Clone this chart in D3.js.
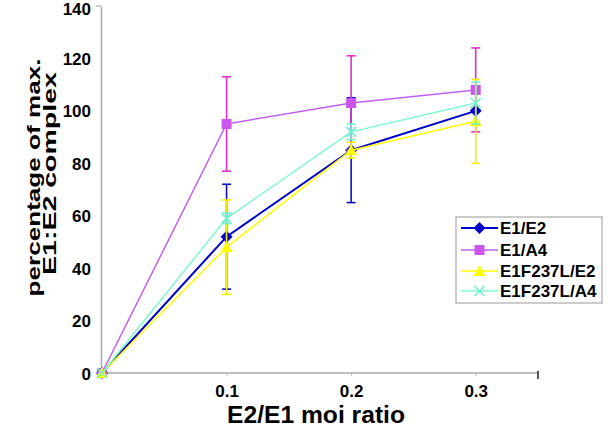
<!DOCTYPE html>
<html><head><meta charset="utf-8">
<script src="https://cdn.jsdelivr.net/npm/d3@7"></script>
<style>body{margin:0;background:#fff}svg{display:block}text{font-family:"Liberation Sans",Arial,sans-serif;font-weight:bold}</style>
</head><body><svg id="c" width="614" height="431"></svg>
<script>
const xValues = [0, 0.1, 0.2, 0.3];
const seriesNames = ["E1/E2", "E1/A4", "E1F237L/E2", "E1F237L/A4"];
const e1e2 = [0, 52, 85, 100];
const e1e2Err = [0, 20, 20, 0];
const e1a4 = [0, 95, 103, 108];
const e1a4Err = [0, 18, 18, 16];
const f237e2 = [0, 48, 85, 96];
const f237e2Err = [0, 18, 3, 16];
const f237a4 = [0, 59, 92, 103];
const f237a4Err = [0, 2, 3, 8];
const yTicks = [0, 20, 40, 60, 80, 100, 120, 140];
const xTicks = [0.1, 0.2, 0.3];

const styles = [
  {line:"#0000C8", err:"#1010C0", marker:"diamond", mfill:"#0000CC", lw:2},
  {line:"#C060F0", err:"#E030C8", marker:"square", mfill:"#CC55EE", lw:1.5},
  {line:"#FFFF00", err:"#F4F000", marker:"triangle", mfill:"#FFFF00", lw:1.5},
  {line:"#80F8D0", err:"#70F0D0", marker:"x", mfill:"#70F0D0", lw:1.5}
];
const series = [
  {name:seriesNames[0], v:e1e2, e:e1e2Err},
  {name:seriesNames[1], v:e1a4, e:e1a4Err},
  {name:seriesNames[2], v:f237e2, e:f237e2Err},
  {name:seriesNames[3], v:f237a4, e:f237a4Err}
];

const svg = d3.select("#c");
const x = d3.scaleLinear().domain([0, 0.35]).range([102, 538]);
const y = d3.scaleLinear().domain([0, 140]).range([373, 6]);

// axes
const gy = svg.append("g").attr("transform","translate(101,0)")
  .call(d3.axisLeft(y).tickValues(yTicks).tickSize(0).tickPadding(10));
gy.select(".domain").attr("stroke","#aaa").attr("stroke-width",1.5);
gy.selectAll("text").attr("font-size",17).attr("fill","#000").attr("dy","0.36em");
gy.selectAll(".tick").filter(d=>d===140).select("text").attr("dy","0.5em");
svg.append("line").attr("x1",96).attr("x2",101).attr("y1",y(140)).attr("y2",y(140)).attr("stroke","#aaa").attr("stroke-width",1.2);

const gx = svg.append("g").attr("transform","translate(0,373)")
  .call(d3.axisBottom(x).tickValues(xTicks).tickSize(3).tickPadding(9).tickFormat(d3.format(".1f")));
gx.select(".domain").attr("stroke","#aaa").attr("stroke-width",1.5).attr("d","M101,0H538");
gx.selectAll(".tick line").attr("stroke","#bbb");
gx.selectAll("text").attr("font-size",17).attr("fill","#000");
svg.append("line").attr("x1",x(0.35)).attr("x2",x(0.35)).attr("y1",371).attr("y2",379).attr("stroke","#222").attr("stroke-width",1.5);

// axis titles
function fitText(cx, cy, rot, size, len, str){
  const g = svg.append("g");
  const t = g.append("text").attr("text-anchor","middle").attr("font-size",size).text(str);
  const w = t.node().getComputedTextLength();
  g.attr("transform",`translate(${cx},${cy}) rotate(${rot}) scale(${len/w},1)`);
}
fitText(316, 423, 0, 23, 178, "E2/E1 moi ratio");
fitText(40, 177.5, -90, 18.5, 238, "percentage of max.");
fitText(56, 173.5, -90, 18.5, 203, "E1:E2 complex");

function marker(g, type, cx, cy, fill){
  if(type==="diamond") g.append("path").attr("d",`M${cx},${cy-6}L${cx+6},${cy}L${cx},${cy+6}L${cx-6},${cy}Z`).attr("fill",fill);
  else if(type==="square") g.append("rect").attr("x",cx-5).attr("y",cy-5).attr("width",10).attr("height",10).attr("fill",fill);
  else if(type==="triangle") g.append("path").attr("d",`M${cx},${cy-6}L${cx+6},${cy+5}L${cx-6},${cy+5}Z`).attr("fill",fill);
  else g.append("path").attr("d",`M${cx-5},${cy-5}L${cx+5},${cy+5}M${cx-5},${cy+5}L${cx+5},${cy-5}`).attr("stroke",fill).attr("stroke-width",1.6).attr("fill","none");
}

const line = d3.line().x(d=>x(d[0])).y(d=>y(d[1]));
series.forEach((s,i)=>{
  const st = styles[i];
  const g = svg.append("g");
  s.v.forEach((v,j)=>{
    const e = s.e[j]; if(!e) return;
    const cx = x(xValues[j]);
    g.append("line").attr("x1",cx).attr("x2",cx).attr("y1",y(v-e)).attr("y2",y(v+e)).attr("stroke",st.err).attr("stroke-width",1.6);
    [v-e,v+e].forEach(b=>g.append("line").attr("x1",cx-4.5).attr("x2",cx+4.5).attr("y1",y(b)).attr("y2",y(b)).attr("stroke",st.err).attr("stroke-width",1.6));
  });
  g.append("path").attr("d",line(xValues.map((xv,j)=>[xv,s.v[j]]))).attr("fill","none").attr("stroke",st.line).attr("stroke-width",st.lw);
  s.v.forEach((v,j)=>marker(g, st.marker, x(xValues[j]), y(v), st.mfill));
});

// legend
const lg = svg.append("g");
lg.append("rect").attr("x",456).attr("y",217).attr("width",146).attr("height",86).attr("fill","#fff").attr("stroke","#999").attr("stroke-width",1);
const rowsY = [228, 250, 271, 291];
series.forEach((s,i)=>{
  const st = styles[i], ry = rowsY[i];
  lg.append("line").attr("x1",461).attr("x2",498).attr("y1",ry).attr("y2",ry).attr("stroke",st.line).attr("stroke-width",st.lw);
  marker(lg, st.marker, 479.5, ry, st.mfill);
  lg.append("text").attr("x",500).attr("y",ry).attr("dy","0.36em").attr("font-size",17).attr("fill","#000").text(s.name);
});
</script></body></html>
